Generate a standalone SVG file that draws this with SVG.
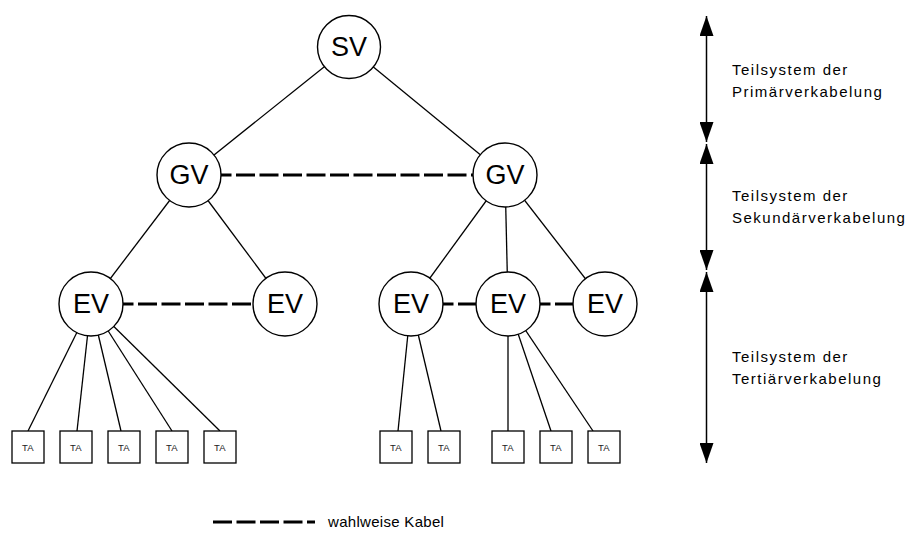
<svg xmlns="http://www.w3.org/2000/svg" width="911" height="536" viewBox="0 0 911 536">
<defs>
<style>
.ln{stroke:#000;stroke-width:1.3;fill:none}
.dash{stroke:#000;stroke-width:3.2;fill:none;stroke-dasharray:19 4.5}
.nd{fill:#fff;stroke:#000;stroke-width:1.4}
.big{font-family:"Liberation Sans",Arial,sans-serif;font-size:27px;fill:#000;text-anchor:middle;dominant-baseline:central}
.ta{fill:#fff;stroke:#000;stroke-width:1.3}
.tat{font-family:"Liberation Sans",Arial,sans-serif;font-size:9.5px;fill:#222;text-anchor:middle;dominant-baseline:central;letter-spacing:0.3px}
.lbl{font-family:"Liberation Sans",Arial,sans-serif;font-size:15px;fill:#000;letter-spacing:1.5px}
.leg{font-family:"Liberation Sans",Arial,sans-serif;font-size:15px;fill:#000;letter-spacing:0.3px}
.arr{stroke:#000;stroke-width:1.5;fill:none}
</style>
<marker id="ah" viewBox="0 0 20 14" refX="20" refY="7" markerWidth="20" markerHeight="14" markerUnits="userSpaceOnUse" orient="auto-start-reverse">
<path d="M0,0 L20,7 L0,14 Z" fill="#000"/>
</marker>
</defs>
<g id="connectors">
<line class="ln" x1="349" y1="47" x2="189" y2="175"/>
<line class="ln" x1="349" y1="47" x2="505" y2="175"/>
<line class="ln" x1="189" y1="175" x2="91" y2="304"/>
<line class="ln" x1="189" y1="175" x2="285" y2="304"/>
<line class="ln" x1="505" y1="175" x2="411" y2="304"/>
<line class="ln" x1="505" y1="175" x2="508" y2="304"/>
<line class="ln" x1="505" y1="175" x2="605" y2="304"/>
<line class="ln" x1="91" y1="304" x2="28" y2="431"/>
<line class="ln" x1="91" y1="304" x2="77" y2="431"/>
<line class="ln" x1="91" y1="304" x2="121" y2="431"/>
<line class="ln" x1="91" y1="304" x2="172" y2="431"/>
<line class="ln" x1="91" y1="304" x2="220" y2="431"/>
<line class="ln" x1="411" y1="304" x2="398" y2="431"/>
<line class="ln" x1="411" y1="304" x2="441" y2="431"/>
<line class="ln" x1="508" y1="304" x2="508" y2="431"/>
<line class="ln" x1="508" y1="304" x2="551" y2="431"/>
<line class="ln" x1="508" y1="304" x2="593" y2="431"/>
<line class="dash" x1="189" y1="175" x2="505" y2="175"/>
<line class="dash" x1="91" y1="304" x2="285" y2="304"/>
<line class="dash" x1="411" y1="304" x2="508" y2="304"/>
<line class="dash" x1="508" y1="304" x2="605" y2="304"/>
</g>
<g id="SV"><circle class="nd" cx="349" cy="47" r="31.5"/><text class="big" x="349" y="47">SV</text></g>
<g id="GV1"><circle class="nd" cx="189" cy="175" r="32"/><text class="big" x="189" y="175">GV</text></g>
<g id="GV2"><circle class="nd" cx="505" cy="175" r="32"/><text class="big" x="505" y="175">GV</text></g>
<g id="EV1"><circle class="nd" cx="91" cy="304" r="32"/><text class="big" x="91" y="304">EV</text></g>
<g id="EV2"><circle class="nd" cx="285" cy="304" r="32"/><text class="big" x="285" y="304">EV</text></g>
<g id="EV3"><circle class="nd" cx="411" cy="304" r="32"/><text class="big" x="411" y="304">EV</text></g>
<g id="EV4"><circle class="nd" cx="508" cy="304" r="32"/><text class="big" x="508" y="304">EV</text></g>
<g id="EV5"><circle class="nd" cx="605" cy="304" r="32"/><text class="big" x="605" y="304">EV</text></g>
<g id="TA1"><rect class="ta" x="12" y="431" width="32" height="32"/><text class="tat" x="28" y="447">TA</text></g>
<g id="TA2"><rect class="ta" x="60" y="431" width="32" height="32"/><text class="tat" x="76" y="447">TA</text></g>
<g id="TA3"><rect class="ta" x="108" y="431" width="32" height="32"/><text class="tat" x="124" y="447">TA</text></g>
<g id="TA4"><rect class="ta" x="156" y="431" width="32" height="32"/><text class="tat" x="172" y="447">TA</text></g>
<g id="TA5"><rect class="ta" x="204" y="431" width="32" height="32"/><text class="tat" x="220" y="447">TA</text></g>
<g id="TA6"><rect class="ta" x="380" y="431" width="32" height="32"/><text class="tat" x="396" y="447">TA</text></g>
<g id="TA7"><rect class="ta" x="428" y="431" width="32" height="32"/><text class="tat" x="444" y="447">TA</text></g>
<g id="TA8"><rect class="ta" x="492" y="431" width="32" height="32"/><text class="tat" x="508" y="447">TA</text></g>
<g id="TA9"><rect class="ta" x="540" y="431" width="32" height="32"/><text class="tat" x="556" y="447">TA</text></g>
<g id="TA10"><rect class="ta" x="588" y="431" width="32" height="32"/><text class="tat" x="604" y="447">TA</text></g>
<g id="levels">
<line class="arr" x1="706.5" y1="16" x2="706.5" y2="142" marker-start="url(#ah)" marker-end="url(#ah)"/>
<line class="arr" x1="706.5" y1="144" x2="706.5" y2="270" marker-start="url(#ah)" marker-end="url(#ah)"/>
<line class="arr" x1="706.5" y1="272" x2="706.5" y2="463" marker-start="url(#ah)" marker-end="url(#ah)"/>
<text class="lbl" x="732" y="75">Teilsystem der</text>
<text class="lbl" x="732" y="97">Primärverkabelung</text>
<text class="lbl" x="732" y="201">Teilsystem der</text>
<text class="lbl" x="732" y="223">Sekundärverkabelung</text>
<text class="lbl" x="732" y="362">Teilsystem der</text>
<text class="lbl" x="732" y="384">Tertiärverkabelung</text>
</g>
<g id="legend">
<line class="dash" x1="213" y1="522" x2="315" y2="522"/>
<text class="leg" x="328" y="527">wahlweise Kabel</text>
</g>
</svg>
